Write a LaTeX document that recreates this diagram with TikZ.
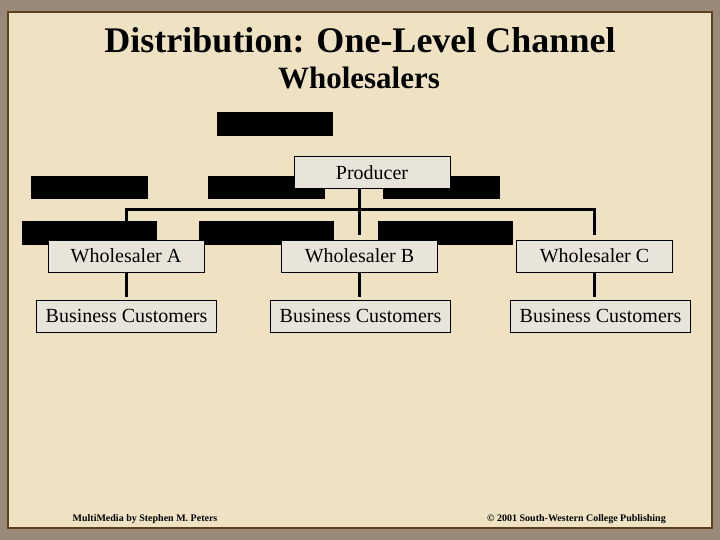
\documentclass[tikz,border=0pt]{standalone}
\usepackage{fontspec}
\setmainfont{Liberation Serif}
\usepackage{tikz}
\usetikzlibrary{positioning}
\definecolor{slide-frame}{RGB}{152,137,121}
\definecolor{slide-paper}{RGB}{238,226,194}
\definecolor{slide-edge}{RGB}{92,64,32}
\definecolor{box-grey}{RGB}{233,228,218}
\pgfdeclarelayer{paper}
\pgfdeclarelayer{links}
\pgfdeclarelayer{bars}
\pgfsetlayers{paper,links,bars,main}
\tikzset{%
    heading/.style={%
        font=\fontsize{36}{40}\selectfont\bfseries,
        inner sep=0pt,
    },
    subheading/.style={%
        font=\fontsize{31}{35}\selectfont\bfseries,
        inner sep=0pt,
    },
    footer/.style={%
        font=\fontsize{10}{12}\selectfont\bfseries,
        inner sep=0pt,
    },
    member/.style={%
        rectangle,
        fill=box-grey,
        draw=black, line width=1pt,
        minimum width=156pt,
        minimum height=32pt,
        inner sep=0pt,
        font=\fontsize{20}{24}\selectfont,
        text centered,
    },
    customer/.style={%
        member,
        minimum width=180pt,
    },
    blackbar/.style={%
        rectangle,
        fill=black,
        minimum width=117pt,
        minimum height=23pt,
        inner sep=0pt,
    },
    widebar/.style={%
        blackbar,
        minimum width=135pt,
        minimum height=24pt,
    },
    link/.style={%
        line width=3pt,
        line join=miter,
    },
}

\begin{document}
\begin{tikzpicture}[x=1pt, y=-1pt]
  % slide background
  \begin{pgfonlayer}{paper}
    \fill[slide-frame] (0, 0) rectangle (720, 540);
    \fill[slide-paper] (8, 12) rectangle (712, 528);
    \draw[slide-edge, line width=1.5pt] (8, 12) rectangle (712, 528);
  \end{pgfonlayer}

  \node [heading] at (360, 40) (title) {Distribution: One-Level Channel};
  \node [subheading] at (359, 78) (subtitle) {Wholesalers};

  \coordinate (branch) at (360, 210);

  \node [member] at (372, 172.5) (producer) {Producer};

  \node [member] at (126, 256) (ws_a) {Wholesaler A};
  \node [member] at (359.5, 256) (ws_b) {Wholesaler B};
  \node [member] at (594.5, 256) (ws_c) {Wholesaler C};

  \node [customer] at (126.5, 316) (bc_a) {Business Customers};
  \node [customer] at (360.5, 316) (bc_b) {Business Customers};
  \node [customer] at (600.5, 316) (bc_c) {Business Customers};

  \begin{pgfonlayer}{bars}
    \node [blackbar, minimum width=116pt, minimum height=24pt] at (275, 124) (bar_top) {};
    \node [blackbar] at (89.5, 187.5) (bar_r1a) {};
    \node [blackbar] at (266, 187.5) (bar_r1b) {};
    \node [blackbar] at (441, 187.5) (bar_r1c) {};
    \node [widebar] at (89.5, 233) (bar_r2a) {};
    \node [widebar] at (266, 233) (bar_r2b) {};
    \node [widebar] at (445.5, 233) (bar_r2c) {};
  \end{pgfonlayer}

  \begin{pgfonlayer}{links}
    \draw[link, shorten >=5pt] (ws_b.north |- producer.south) -- (ws_b.north);
    \draw[link, shorten <=5pt, shorten >=5pt]
      (ws_a.north) -- (ws_a.north |- branch) -- (ws_c.north |- branch) -- (ws_c.north);

    \draw[link, shorten >=3pt] (ws_a.south) -- (ws_a.south |- bc_a.north);
    \draw[link, shorten >=3pt] (ws_b.south) -- (ws_b.south |- bc_b.north);
    \draw[link, shorten >=3pt] (ws_c.south) -- (ws_c.south |- bc_c.north);
  \end{pgfonlayer}

  \node [footer] at (145, 519) (credit) {MultiMedia by Stephen M. Peters};
  \node [footer] at (576.5, 519) (copyright) {© 2001 South-Western College Publishing};
\end{tikzpicture}
\end{document}
